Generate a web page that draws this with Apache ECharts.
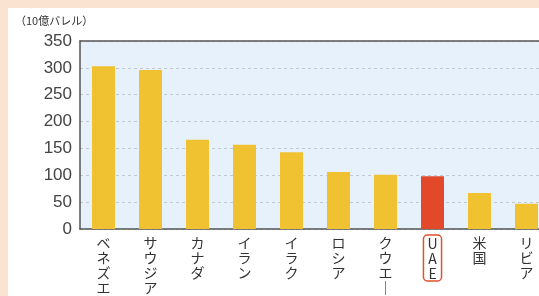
<!DOCTYPE html>
<html>
<head>
<meta charset="utf-8">
<style type="text/css">
	body{
		margin: 0;
		background-color: #fbe3d1;
		overflow: hidden;
	}
	#chart{
		position: absolute;
		left: 8px;
		top: 8px;
		width: 531px;
		height: 288px;
		background-color: #fff;
	}
</style>
</head>
<body>
<div id="chart"></div>
<script src="https://cdn.jsdelivr.net/npm/echarts@6/dist/echarts.min.js"></script>
<script>
// 原油確認埋蔵量 (10億バレル)
var countries = ['ベネズエラ', 'サウジアラビア', 'カナダ', 'イラン', 'イラク', 'ロシア', 'クウエ｜ト', 'UAE', '米国', 'リビア'];
var reserves = [303, 296, 166, 157, 143, 106, 101, 98, 67, 47];
var highlight = 'UAE';
var yTicks = [0, 50, 100, 150, 200, 250, 300, 350];

var catData = countries.map(function (c) {
    var item = {value: c};
    if (c == highlight) {
        item.textStyle = {
            borderColor: '#e2502c',
            borderWidth: 1.5,
            borderRadius: 4,
            padding: [1, 4, 0, 4]
        };
    }
    return item;
});

var barData = reserves.map(function (v, i) {
    return {
        value: v,
        itemStyle: {color: countries[i] == highlight ? '#e2492a' : '#f0c232'}
    };
});

var chart = echarts.init(document.getElementById('chart'));
chart.setOption({
    animation: false,
    title: {
        text: '（10億バレル）',
        left: 2,
        top: 2,
        textStyle: {fontSize: 11, fontWeight: 'normal', color: '#333', fontFamily: 'Noto Sans CJK JP'}
    },
    grid: {
        left: 72,
        top: 33,
        width: 470,
        height: 188,
        outerBoundsMode: 'none',
        containLabel: false,
        show: true,
        backgroundColor: '#e7f1fb',
        borderWidth: 0
    },
    xAxis: [{
        type: 'category',
        data: catData,
        axisLine: {lineStyle: {color: '#555', width: 1.5}},
        axisTick: {inside: true, length: 4, lineStyle: {color: '#555'}},
        axisLabel: {
            interval: 0,
            margin: 6,
            fontSize: 14,
            lineHeight: 15,
            color: '#333',
            fontFamily: 'Noto Sans CJK JP',
            verticalAlign: 'top',
            formatter: function (v) {
                return v.split('').join('\n');
            }
        }
    }, {
        // 上枠線
        type: 'category',
        position: 'top',
        data: countries,
        axisLine: {lineStyle: {color: '#555', width: 1.5}},
        axisTick: {show: false},
        axisLabel: {show: false}
    }],
    yAxis: {
        type: 'value',
        min: yTicks[0],
        max: yTicks[yTicks.length - 1],
        interval: 50,
        axisLine: {show: true, lineStyle: {color: '#555', width: 1.5}},
        axisTick: {show: false},
        axisLabel: {
            fontSize: 17,
            color: '#444',
            margin: 8,
            fontFamily: 'Liberation Sans'
        },
        splitLine: {
            show: true,
            lineStyle: {color: '#c2c8d0', type: [3, 3], width: 1}
        }
    },
    series: [{
        type: 'bar',
        data: barData,
        barWidth: 23
    }]
});
</script>
</body>
</html>
